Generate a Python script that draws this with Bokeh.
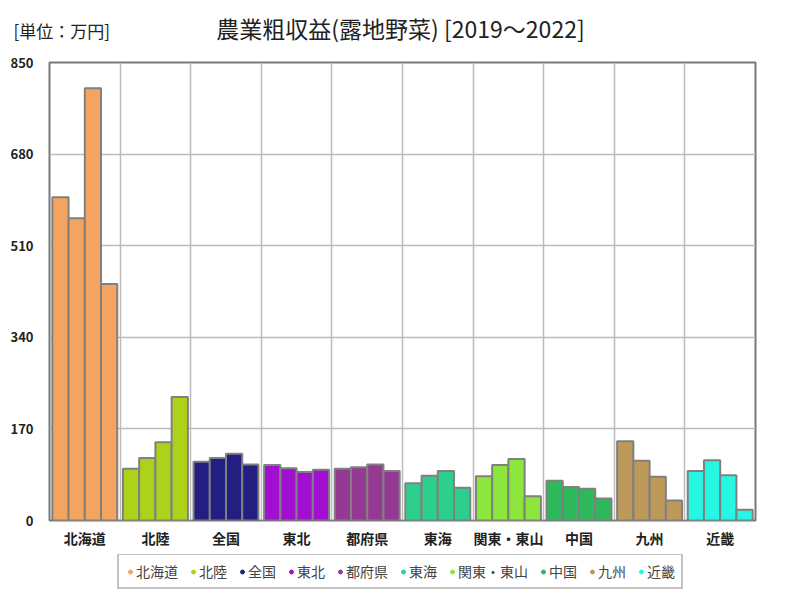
from bokeh.plotting import figure
from bokeh.layouts import column
from bokeh.models import FixedTicker, Legend, LegendItem, Label, ColumnDataSource, Range1d
from bokeh.embed import file_html
from bokeh.resources import INLINE

regions = ["北海道", "北陸", "全国", "東北", "都府県", "東海", "関東・東山", "中国", "九州", "近畿"]
years = ["2019", "2020", "2021", "2022"]
v2019 = [600, 96, 109, 103, 96, 69, 82, 74, 147, 92]
v2020 = [561, 116, 116, 97, 99, 83, 103, 62, 111, 112]
v2021 = [802, 145, 124, 90, 104, 92, 114, 59, 81, 84]
v2022 = [439, 229, 104, 94, 92, 61, 45, 41, 37, 20]
colors = ["#F4A460", "#ADD21A", "#231E82", "#A30FD0", "#943A92",
          "#2CCF8C", "#8CE63E", "#2DB85C", "#BD9A5A", "#26F7E3"]
y_ticks = [0, 170, 340, 510, 680, 850]

title_text = "農業粗収益(露地野菜) [2019～2022]"
unit_text = "[単位：万円]"
FONT = "Noto Sans CJK JP"
W = 792


def blank(height):
    f = figure(width=W, height=height, output_backend="svg", toolbar_location=None,
               x_range=Range1d(0, 1), y_range=Range1d(0, 1), min_border=0,
               x_axis_location=None, y_axis_location=None)
    f.grid.visible = False
    f.outline_line_color = None
    f.background_fill_color = "white"
    f.border_fill_color = "white"
    return f


# header with title and unit
header = blank(54)
header.add_layout(Label(x=400, y=27, x_units="screen", y_units="screen", text=title_text,
                        text_font=FONT, text_font_size="23px", text_align="center",
                        text_baseline="middle", text_color="#222222"))
header.add_layout(Label(x=13, y=24, x_units="screen", y_units="screen", text=unit_text,
                        text_font=FONT, text_font_size="17px", text_align="left",
                        text_baseline="middle", text_color="#222222"))

# main chart
p = figure(width=W, height=500, output_backend="svg", toolbar_location=None,
           x_range=Range1d(0, len(regions)), y_range=Range1d(0, 850),
           min_border_left=49, min_border_right=37, min_border_top=8, min_border_bottom=34)
p.background_fill_color = "white"
p.border_fill_color = "white"
p.outline_line_color = "#787878"
p.outline_line_width = 2

series = [v2019, v2020, v2021, v2022]
offsets = [-0.345, -0.115, 0.115, 0.345]
for vals, off in zip(series, offsets):
    src = ColumnDataSource(dict(x=[i + 0.5 + off for i in range(len(regions))],
                                top=vals, color=colors))
    p.vbar(x="x", top="top", bottom=0, width=0.23, fill_color="color",
           line_color="#808080", line_width=2, source=src)

p.xaxis.ticker = FixedTicker(ticks=[i + 0.5 for i in range(len(regions))])
p.xaxis.major_label_overrides = {i + 0.5: r for i, r in enumerate(regions)}
p.yaxis.ticker = FixedTicker(ticks=y_ticks)
for ax in (p.xaxis[0], p.yaxis[0]):
    ax.axis_line_color = None
    ax.major_tick_line_color = None
    ax.minor_tick_line_color = None
    ax.major_tick_out = 0
    ax.major_tick_in = 0
    ax.minor_tick_out = 0
    ax.minor_tick_in = 0
    ax.major_label_text_font = FONT
    ax.major_label_text_font_style = "bold"
    ax.major_label_text_color = "#222222"
p.xaxis.major_label_text_font_size = "14px"
p.yaxis.major_label_text_font_size = "13px"
p.xaxis.major_label_standoff = 7
p.yaxis.major_label_standoff = 16

p.xgrid.ticker = FixedTicker(ticks=list(range(1, len(regions))))
p.ygrid.ticker = FixedTicker(ticks=y_ticks[1:-1])
for g in (p.xgrid[0], p.ygrid[0]):
    g.grid_line_color = "#BBBBBB"
    g.grid_line_width = 1.5

# footer with legend
footer = blank(38)
items = []
for r, c in zip(regions, colors):
    rr = footer.scatter(x=[0.5], y=[float("nan")], marker="circle", size=9,
                        fill_color=c, line_color=c)
    items.append(LegendItem(label=r, renderers=[rr]))
legend = Legend(items=items, orientation="horizontal", location=(117, 3),
                label_text_font=FONT, label_text_font_size="14px",
                glyph_width=10, glyph_height=19, label_standoff=1, spacing=10,
                padding=6, margin=0, border_line_color="#888888",
                border_line_width=2, label_height=19)
footer.add_layout(legend, "center")

layout = column(column(header, spacing=0), column(p, spacing=0),
                column(footer, spacing=0), spacing=0)
open("out.html", "w").write(file_html(layout, INLINE))
